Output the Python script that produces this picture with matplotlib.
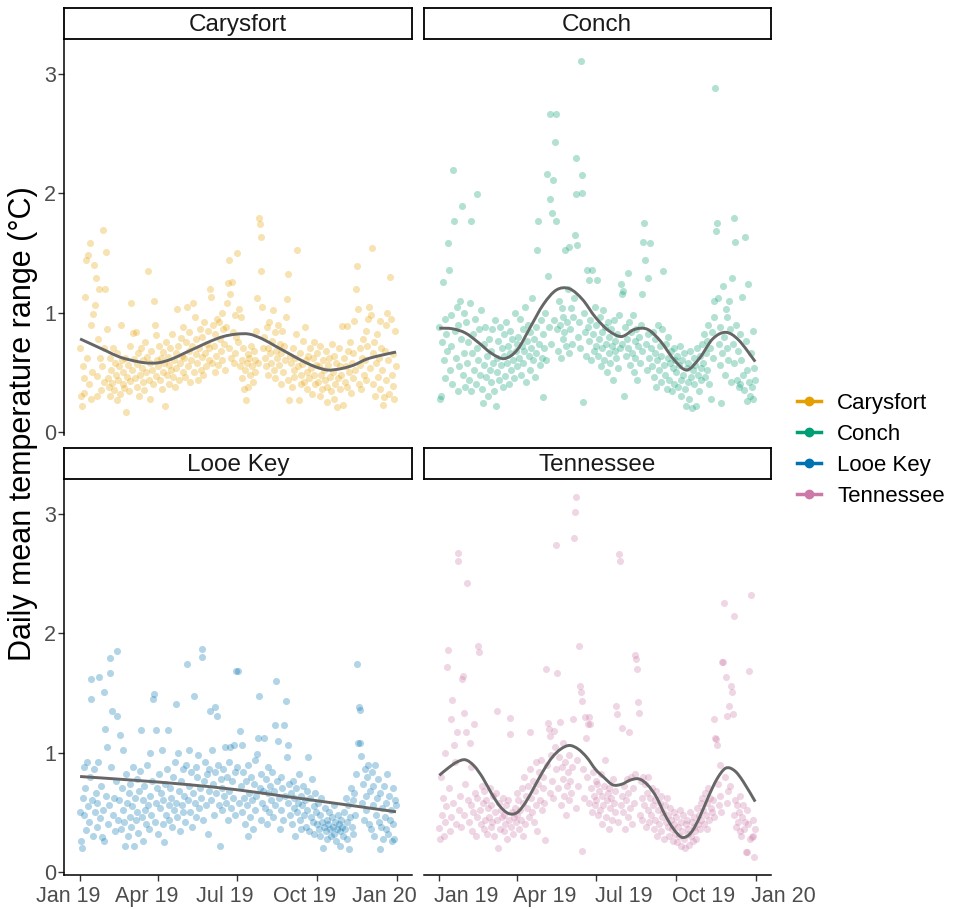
import numpy as np
import matplotlib
matplotlib.use("Agg")
import matplotlib.pyplot as plt
import matplotlib.dates as mdates
from matplotlib.path import Path
from matplotlib.patches import PathPatch
from matplotlib.lines import Line2D
from matplotlib.transforms import ScaledTranslation

plt.rcParams['font.family'] = ['Liberation Sans', 'DejaVu Sans']

# daily mean temperature range per site, one row per month (Jan..Dec 2019)
carysfort = [
    0.70, 0.30, 0.22, 0.55, 0.45, 0.33, 1.13, 1.44, 0.62, 1.48, 0.40, 1.58, 0.90, 0.28, 0.50, 0.99, 1.40, 1.06, 1.29, 0.47, 0.30, 0.78, 1.20, 0.62, 0.35, 0.55, 1.69, 0.42, 0.70, 1.20, 1.51,
    0.86, 0.45, 0.38, 0.62, 0.30, 0.52, 0.41, 0.70, 0.35, 0.58, 0.48, 0.27, 0.66, 0.44, 0.55, 0.32, 0.90, 0.60, 0.40, 0.50, 0.37, 0.62, 0.17, 0.46, 0.56, 0.34, 0.72, 0.43,
    1.08, 0.52, 0.83, 0.61, 0.45, 0.84, 0.38, 0.57, 0.66, 0.30, 0.48, 0.70, 0.54, 0.42, 0.60, 0.35, 0.75, 0.50, 0.63, 1.35, 0.44, 0.58, 0.28, 0.68, 0.52, 0.40, 1.10, 0.90, 0.81, 0.47, 0.60,
    0.55, 0.72, 0.44, 0.62, 0.36, 0.50, 0.67, 0.58, 0.22, 0.75, 0.48, 0.63, 0.40, 0.56, 0.70, 0.52, 0.82, 0.46, 0.60, 0.38, 0.66, 0.54, 1.03, 0.72, 0.44, 0.58, 0.79, 0.64, 0.50, 0.88,
    0.62, 0.46, 0.75, 1.05, 0.55, 0.68, 0.84, 0.42, 0.60, 0.72, 1.08, 0.50, 0.96, 0.65, 0.78, 0.58, 0.44, 0.70, 0.86, 0.52, 0.63, 0.80, 0.48, 0.92, 0.66, 0.55, 0.74, 0.85, 0.60, 0.70, 1.20,
    1.13, 0.58, 0.90, 0.72, 0.50, 0.82, 0.64, 0.95, 0.56, 0.92, 0.78, 0.68, 1.00, 0.60, 0.86, 0.74, 0.52, 0.88, 1.08, 1.25, 0.70, 1.44, 1.16, 0.62, 1.26, 0.84, 0.58, 0.98, 0.66, 0.80,
    1.50, 0.75, 1.03, 0.55, 0.96, 0.60, 0.45, 0.70, 0.36, 0.52, 0.27, 0.58, 0.65, 0.38, 0.62, 0.48, 0.72, 0.55, 0.42, 0.68, 0.60, 0.50, 0.85, 1.12, 0.58, 1.79, 1.74, 1.63, 1.35, 1.05, 0.70,
    0.80, 0.62, 0.55, 0.88, 0.70, 0.48, 0.92, 0.66, 0.58, 0.76, 1.02, 0.52, 0.84, 0.45, 0.68, 0.62, 0.90, 0.56, 0.74, 0.40, 0.66, 0.85, 0.50, 0.72, 0.60, 0.96, 1.11, 1.32, 0.44, 0.27, 0.64,
    0.58, 0.38, 0.70, 0.52, 0.46, 0.62, 0.82, 1.52, 0.55, 0.27, 0.66, 0.48, 0.40, 0.57, 0.76, 0.42, 0.88, 0.60, 0.36, 0.50, 0.64, 0.45, 0.70, 0.54, 0.32, 0.62, 0.48, 0.75, 0.40, 0.56,
    0.66, 0.42, 0.55, 0.30, 0.72, 0.48, 0.36, 0.60, 0.52, 0.44, 0.68, 0.38, 0.25, 0.56, 0.62, 0.46, 0.34, 0.74, 0.50, 0.28, 0.64, 0.40, 0.58, 0.21, 0.45, 0.70, 0.36, 0.55, 0.48, 0.89, 0.23,
    0.62, 0.42, 0.55, 0.89, 0.38, 0.68, 0.50, 0.75, 0.33, 0.58, 0.45, 0.66, 0.93, 0.52, 1.20, 1.39, 1.03, 0.40, 0.70, 0.56, 0.36, 0.62, 0.78, 0.48, 0.60, 0.85, 0.44, 0.72, 0.95, 1.05,
    0.54, 0.98, 1.54, 0.66, 0.40, 0.75, 0.30, 0.58, 0.82, 0.46, 0.62, 0.93, 0.36, 0.70, 0.52, 0.23, 0.29, 0.68, 0.44, 0.90, 1.00, 0.60, 0.32, 1.30, 0.95, 0.48, 0.39, 0.65, 0.28, 0.85, 0.55,
]
conch = [
    0.88, 0.28, 0.30, 0.75, 1.26, 0.60, 0.95, 0.45, 0.82, 0.68, 1.58, 1.36, 0.52, 0.98, 0.72, 0.40, 2.19, 1.77, 0.85, 0.62, 1.05, 0.34, 0.90, 0.55, 1.10, 0.78, 1.89, 0.48, 0.66, 1.00, 0.38,
    0.92, 0.58, 0.75, 0.44, 1.08, 0.34, 1.77, 0.66, 0.82, 0.52, 0.95, 0.40, 0.70, 1.99, 0.60, 0.86, 0.48, 1.02, 0.36, 0.24, 0.74, 0.56, 0.88, 0.46, 0.64, 0.30, 0.78, 0.52,
    0.68, 0.42, 0.86, 0.58, 0.34, 0.94, 0.22, 0.62, 0.50, 0.76, 0.44, 0.88, 0.56, 0.70, 0.38, 0.82, 0.64, 0.47, 0.92, 0.58, 0.72, 0.40, 0.66, 0.85, 0.52, 0.78, 0.60, 0.45, 1.00, 0.68, 0.74,
    0.55, 0.80, 0.62, 0.95, 0.48, 0.72, 0.86, 0.58, 0.68, 1.05, 0.42, 0.76, 0.90, 0.64, 0.52, 0.84, 0.70, 1.12, 0.60, 0.78, 0.46, 0.88, 0.66, 1.52, 1.77, 0.74, 0.56, 0.94, 0.62, 0.29,
    0.82, 0.70, 1.00, 0.60, 2.16, 1.31, 0.88, 1.95, 2.66, 0.74, 1.83, 2.11, 0.94, 2.43, 2.66, 1.77, 0.86, 0.68, 1.10, 0.90, 0.62, 1.04, 0.78, 0.96, 0.84, 1.52, 0.72, 0.92, 1.20, 0.66, 1.55,
    0.86, 1.04, 0.74, 0.96, 1.12, 1.65, 2.29, 1.99, 1.57, 0.80, 0.92, 0.70, 3.11, 2.15, 2.00, 0.25, 1.00, 0.84, 0.64, 1.36, 0.88, 1.27, 0.76, 0.94, 0.60, 1.36, 0.82, 0.68, 1.05, 0.72,
    0.90, 1.27, 0.64, 0.78, 0.96, 0.55, 0.84, 0.70, 1.02, 0.60, 0.88, 0.74, 0.50, 0.92, 0.66, 0.80, 0.58, 0.86, 0.72, 0.44, 0.94, 0.68, 0.76, 0.62, 0.82, 0.54, 0.98, 0.70, 1.24, 1.16, 0.74,
    1.18, 0.30, 0.88, 0.64, 0.78, 1.33, 0.70, 0.92, 0.56, 0.84, 0.66, 0.98, 0.50, 0.76, 0.62, 0.86, 0.44, 0.72, 0.80, 0.58, 0.90, 0.68, 1.16, 1.59, 1.75, 1.44, 0.74, 0.52, 0.82, 1.29, 0.62,
    1.58, 0.70, 0.55, 0.84, 0.46, 0.66, 0.78, 0.38, 0.60, 0.90, 0.52, 0.72, 0.42, 0.64, 0.86, 1.35, 0.56, 0.48, 0.74, 0.36, 0.62, 0.80, 0.44, 0.58, 0.68, 0.34, 0.54, 0.70, 0.40, 0.60,
    0.50, 0.64, 0.38, 0.56, 0.72, 0.44, 0.30, 0.60, 0.48, 0.66, 0.36, 0.22, 0.54, 0.42, 0.58, 0.28, 0.68, 0.46, 0.20, 0.52, 0.62, 0.40, 0.56, 0.22, 0.70, 0.48, 0.34, 0.64, 0.54, 0.44, 0.74,
    0.58, 0.82, 0.46, 0.66, 0.76, 0.52, 0.90, 0.40, 0.70, 0.28, 0.84, 0.62, 0.96, 1.10, 2.88, 1.68, 1.75, 1.12, 0.74, 0.56, 0.88, 0.24, 0.66, 1.22, 0.80, 0.48, 1.03, 0.70, 0.96, 0.60,
    1.10, 0.86, 0.42, 1.29, 0.74, 1.79, 0.58, 1.59, 0.90, 0.44, 0.68, 0.38, 0.82, 0.40, 0.60, 1.13, 0.48, 0.35, 1.63, 0.76, 0.26, 0.52, 1.24, 0.42, 0.30, 0.66, 0.38, 0.85, 0.28, 0.54, 0.44,
]
looe_key = [
    0.50, 0.26, 0.20, 0.62, 0.88, 0.48, 0.70, 0.35, 0.92, 0.55, 0.42, 0.80, 1.62, 1.45, 0.60, 0.30, 0.86, 0.50, 0.66, 0.38, 0.58, 0.92, 1.63, 0.45, 0.72, 0.29, 0.52, 1.51, 0.26, 1.20, 0.64,
    1.05, 0.40, 0.56, 1.67, 1.79, 0.88, 1.35, 0.48, 0.62, 0.34, 0.76, 1.31, 1.85, 0.44, 0.60, 1.15, 0.36, 0.70, 0.52, 1.02, 0.42, 0.22, 0.82, 0.58, 0.30, 0.66, 0.46, 0.74,
    0.38, 0.55, 0.88, 0.22, 0.62, 0.44, 0.78, 0.50, 0.33, 0.68, 0.85, 1.19, 0.46, 0.60, 0.26, 0.72, 0.52, 0.40, 0.90, 0.56, 0.36, 0.64, 1.00, 0.48, 0.76, 1.45, 1.49, 0.42, 1.19, 0.58, 0.70,
    0.32, 0.82, 0.54, 0.66, 1.02, 0.40, 0.60, 0.25, 0.74, 0.48, 0.86, 1.19, 0.56, 0.44, 0.70, 0.62, 0.38, 0.80, 0.52, 0.92, 1.41, 0.58, 0.46, 1.00, 0.68, 0.34, 0.76, 0.56, 0.86, 0.50,
    0.64, 0.42, 0.90, 1.74, 0.60, 1.02, 0.72, 0.50, 0.84, 0.38, 0.66, 1.47, 0.58, 0.88, 0.46, 0.80, 0.98, 0.54, 0.70, 0.62, 1.87, 1.80, 0.44, 0.76, 0.92, 0.56, 0.82, 0.32, 0.68, 0.86, 1.35,
    0.60, 1.02, 0.74, 0.48, 1.38, 0.84, 0.66, 1.31, 0.90, 0.56, 0.22, 0.78, 0.70, 0.52, 0.86, 0.64, 1.05, 0.58, 0.80, 0.44, 0.92, 0.68, 1.05, 0.54, 0.76, 0.62, 1.06, 0.48, 0.84, 1.68,
    0.88, 1.68, 0.58, 1.18, 0.72, 1.06, 0.50, 0.84, 0.62, 0.40, 0.76, 0.56, 0.30, 0.90, 0.66, 0.46, 0.80, 0.60, 0.36, 0.74, 0.52, 0.94, 0.64, 0.99, 1.12, 1.47, 0.70, 0.44, 0.82, 0.58, 0.68,
    1.12, 0.54, 0.78, 0.40, 0.66, 0.88, 0.50, 0.72, 0.60, 0.84, 0.46, 0.68, 1.23, 0.56, 1.60, 0.76, 1.10, 0.62, 0.36, 0.80, 0.52, 0.70, 0.44, 1.23, 0.64, 1.43, 0.96, 1.06, 0.58, 0.74, 0.48,
    0.66, 0.40, 0.76, 0.54, 0.62, 0.30, 0.70, 0.50, 0.58, 0.82, 0.44, 0.64, 0.36, 0.56, 0.72, 0.48, 0.60, 0.38, 0.68, 0.52, 0.96, 0.34, 0.62, 0.46, 0.78, 0.42, 0.55, 0.32, 0.66, 0.50,
    0.40, 0.58, 0.36, 0.48, 0.30, 0.62, 0.42, 0.20, 0.38, 0.54, 0.34, 0.44, 0.28, 0.40, 0.50, 0.36, 0.30, 0.46, 0.38, 0.56, 0.32, 0.42, 0.26, 0.36, 0.48, 0.40, 0.22, 0.34, 0.44, 0.38, 0.30,
    0.50, 0.36, 0.62, 0.42, 0.28, 0.56, 0.19, 0.46, 0.70, 0.38, 0.60, 0.32, 0.66, 0.48, 0.82, 1.74, 1.08, 1.38, 1.36, 1.08, 0.97, 0.58, 0.74, 0.44, 0.86, 0.52, 0.64, 0.80, 0.90, 0.40,
    0.68, 0.36, 0.84, 0.56, 0.72, 0.30, 0.90, 0.48, 0.62, 0.78, 0.42, 0.19, 0.66, 0.38, 0.54, 0.28, 0.72, 0.46, 0.36, 0.58, 0.82, 0.32, 0.64, 0.44, 0.52, 0.26, 0.70, 0.40, 0.28, 0.60, 0.56,
]
tennessee = [
    0.37, 0.28, 0.80, 0.48, 0.62, 0.30, 1.00, 0.42, 0.55, 1.72, 1.86, 0.70, 0.34, 1.28, 0.46, 1.44, 0.58, 1.06, 0.92, 0.40, 1.17, 2.67, 2.60, 0.52, 0.64, 0.38, 1.62, 1.64, 0.48, 1.33, 0.74,
    1.17, 2.42, 0.60, 0.42, 1.08, 0.56, 0.88, 0.34, 0.50, 1.24, 0.66, 0.30, 0.46, 0.62, 1.89, 1.84, 0.52, 0.40, 0.72, 0.58, 0.36, 0.68, 0.44, 0.60, 0.32, 0.54, 0.46, 0.70,
    0.38, 0.56, 0.42, 0.64, 0.30, 0.50, 0.66, 1.35, 0.44, 0.20, 0.58, 0.36, 0.52, 0.46, 0.62, 0.34, 0.48, 0.40, 0.56, 0.28, 0.60, 0.44, 1.29, 1.16, 0.38, 0.50, 0.32, 0.46, 0.54, 0.42, 0.66,
    0.48, 0.60, 0.36, 0.52, 0.44, 0.70, 0.30, 0.58, 0.80, 0.40, 0.64, 0.54, 0.72, 0.46, 0.86, 1.17, 0.62, 0.50, 0.76, 0.42, 0.68, 0.92, 0.56, 0.34, 0.74, 0.84, 0.60, 0.94, 0.52, 0.70,
    0.80, 0.58, 0.27, 1.70, 0.90, 1.25, 1.20, 0.66, 1.14, 0.98, 0.76, 0.62, 1.18, 1.05, 2.74, 0.86, 1.67, 0.70, 0.96, 1.26, 0.56, 0.88, 0.78, 1.08, 0.64, 0.92, 0.48, 0.72, 0.84, 0.60, 0.98,
    0.76, 0.66, 0.88, 1.28, 2.80, 3.01, 3.14, 0.54, 0.94, 0.72, 1.89, 1.56, 1.51, 1.43, 0.18, 0.86, 0.62, 1.30, 1.12, 0.80, 1.24, 0.58, 1.30, 1.24, 0.70, 0.50, 0.84, 0.64, 0.56, 0.76,
    0.60, 0.74, 0.48, 0.68, 0.52, 0.82, 0.40, 0.64, 0.56, 0.72, 0.94, 0.46, 0.60, 0.66, 0.36, 0.70, 0.54, 0.62, 0.44, 0.78, 0.58, 0.50, 0.68, 1.39, 1.32, 0.42, 2.66, 2.60, 0.56, 1.21, 0.64,
    0.50, 0.72, 0.36, 0.60, 0.78, 0.46, 0.66, 1.17, 0.54, 0.80, 0.40, 0.70, 0.58, 0.82, 1.82, 1.78, 1.70, 1.42, 1.33, 0.48, 0.76, 0.62, 0.44, 0.80, 0.56, 0.74, 0.38, 0.66, 0.52, 0.80, 0.42,
    0.62, 0.48, 0.70, 0.56, 0.36, 0.60, 0.44, 0.68, 0.30, 0.52, 0.40, 0.58, 0.34, 0.64, 0.46, 0.50, 0.28, 0.56, 0.42, 0.62, 0.38, 0.48, 0.30, 0.54, 0.44, 0.36, 0.26, 0.50, 0.40, 0.32,
    0.46, 0.25, 0.38, 0.30, 0.52, 0.22, 0.42, 0.34, 0.48, 0.28, 0.20, 0.40, 0.44, 0.32, 0.36, 0.23, 0.50, 0.30, 0.42, 0.26, 0.38, 0.46, 0.34, 0.28, 0.54, 0.40, 0.48, 0.36, 0.58, 0.44, 0.62,
    0.52, 0.40, 0.66, 0.48, 0.58, 0.36, 0.70, 0.44, 0.62, 0.54, 0.50, 0.60, 0.46, 1.28, 1.12, 1.11, 1.06, 0.74, 0.56, 0.90, 0.64, 0.50, 1.76, 1.76, 2.25, 0.80, 1.63, 0.58, 1.31, 0.68,
    1.39, 0.72, 1.56, 1.51, 1.32, 2.14, 0.48, 0.60, 0.38, 0.56, 0.42, 0.50, 0.34, 0.64, 0.30, 0.46, 0.56, 0.36, 0.42, 0.17, 0.52, 0.17, 0.40, 1.68, 0.28, 2.32, 0.29, 0.44, 0.30, 0.13, 0.36,
]

# smoothed trend per site (day of year, value)
carysfort_smooth_days = [0, 15, 30, 45, 60, 75, 90, 105, 120, 135, 150, 165, 180, 195, 210, 225, 240, 255, 270, 285, 300, 315, 330, 345, 364]
carysfort_smooth = [0.78, 0.73, 0.68, 0.63, 0.60, 0.58, 0.58, 0.61, 0.66, 0.71, 0.76, 0.80, 0.82, 0.82, 0.78, 0.72, 0.66, 0.60, 0.55, 0.52, 0.53, 0.56, 0.61, 0.64, 0.67]
conch_smooth_days = [0, 15, 30, 45, 60, 75, 90, 105, 120, 135, 150, 165, 180, 195, 210, 225, 240, 255, 270, 285, 300, 315, 330, 345, 364]
conch_smooth = [0.87, 0.865, 0.83, 0.75, 0.66, 0.615, 0.69, 0.88, 1.07, 1.19, 1.20, 1.11, 0.96, 0.85, 0.80, 0.86, 0.86, 0.76, 0.61, 0.52, 0.62, 0.78, 0.835, 0.77, 0.59]
looe_key_smooth_days = [0, 60, 120, 180, 240, 300, 364]
looe_key_smooth = [0.80, 0.77, 0.735, 0.69, 0.63, 0.57, 0.505]
tennessee_smooth_days = [0, 10, 20, 30, 40, 50, 60, 70, 80, 90, 100, 110, 120, 130, 140, 150, 160, 170, 180,
                         190, 200, 210, 220, 230, 240, 250, 260, 270, 280, 290, 300, 310, 320, 330, 340, 350, 364]
tennessee_smooth = [0.81, 0.87, 0.92, 0.94, 0.89, 0.79, 0.66, 0.55, 0.49, 0.50, 0.59, 0.72, 0.85, 0.96, 1.03, 1.06, 1.03, 0.96, 0.86,
                    0.79, 0.73, 0.735, 0.77, 0.78, 0.73, 0.63, 0.48, 0.36, 0.29, 0.33, 0.46, 0.63, 0.78, 0.87, 0.85, 0.76, 0.59]

sites = ['Carysfort', 'Conch', 'Looe Key', 'Tennessee']
colors = ['#E69F00', '#009E73', '#0072B2', '#CC79A7']
values = [carysfort, conch, looe_key, tennessee]
smooth_days = [carysfort_smooth_days, conch_smooth_days, looe_key_smooth_days, tennessee_smooth_days]
smooth_vals = [carysfort_smooth, conch_smooth, looe_key_smooth, tennessee_smooth]

start = np.datetime64('2019-01-01')
t0 = mdates.date2num(start)


def smooth_path(xs, ys):
    # Catmull-Rom curve through the knots, drawn as cubic Bezier segments
    xs = np.asarray(xs, float)
    ys = np.asarray(ys, float)
    pts = np.column_stack([xs, ys])
    ext = np.vstack([pts[0], pts, pts[-1]])
    verts = [pts[0]]
    codes = [Path.MOVETO]
    for i in range(len(pts) - 1):
        p0, p1, p2, p3 = ext[i], ext[i + 1], ext[i + 2], ext[i + 3]
        verts += [p1 + (p2 - p0) / 6, p2 - (p3 - p1) / 6, p2]
        codes += [Path.CURVE4] * 3
    return Path(verts, codes)


W, H = 955, 909
fig = plt.figure(figsize=(W / 100, H / 100), dpi=100)

col_x = [64.3, 423.5]
panel_w = 347.5
row_top = [39.0, 479.0]
panel_h = 395.5
strip_h = 30.5
# horizontal shift of the date labels in each column (pixels)
label_shift = [-12, 27]

xlim = (t0 - 18.2, t0 + 364 + 18.2)
ylim = (-0.02, 3.29)
ticks = [np.datetime64(d) for d in ['2019-01-01', '2019-04-01', '2019-07-01', '2019-10-01', '2020-01-01']]

for k, (site, col, vals, sd, sv) in enumerate(zip(sites, colors, values, smooth_days, smooth_vals)):
    r, c = divmod(k, 2)
    left = col_x[c] / W
    bottom = 1 - (row_top[r] + panel_h) / H
    ax = fig.add_axes([left, bottom, panel_w / W, panel_h / H])
    dates = start + np.arange(len(vals))
    ax.scatter(dates, vals, s=26, color=col, alpha=0.3, linewidths=0, zorder=2)
    ax.add_patch(PathPatch(smooth_path(t0 + np.array(sd), sv), fill=False,
                           edgecolor='#666666', lw=2.1, capstyle='butt', zorder=3))
    ax.set_xlim(xlim)
    ax.set_ylim(ylim)
    ax.set_xticks(ticks)
    ax.xaxis.set_major_formatter(mdates.DateFormatter('%b %y'))
    ax.set_yticks([0, 1, 2, 3])
    ax.tick_params(length=4, width=1, color='#333333', labelcolor='#4D4D4D',
                   labelsize=15.5, pad=2)
    ax.tick_params(axis='x', pad=4)
    for s in ['top', 'right']:
        ax.spines[s].set_visible(False)
    ax.spines['left'].set_linewidth(1.1)
    ax.spines['bottom'].set_linewidth(1.1)
    if c == 1:
        ax.spines['left'].set_visible(False)
        ax.tick_params(axis='y', left=False, labelleft=False)
    if r == 0:
        ax.spines['bottom'].set_visible(False)
        ax.tick_params(axis='x', bottom=False, labelbottom=False)
    else:
        shift = ScaledTranslation(label_shift[c] / 100, 0, fig.dpi_scale_trans)
        for lbl in ax.xaxis.get_majorticklabels():
            lbl.set_transform(lbl.get_transform() + shift)

    # facet strip
    sax = fig.add_axes([left, 1 - row_top[r] / H, panel_w / W, strip_h / H])
    sax.set_xticks([])
    sax.set_yticks([])
    for s in sax.spines.values():
        s.set_linewidth(1.3)
        s.set_color('black')
    sax.text(0.5, 0.45, site, ha='center', va='center', fontsize=17.5, color='#1A1A1A',
             transform=sax.transAxes)

fig.text(23 / W, 1 - 424 / H, 'Daily mean temperature range (°C)', rotation=90,
         ha='center', va='center', fontsize=22, color='black')

handles = [Line2D([0], [0], color=cl, lw=2.5, marker='o', markersize=6) for cl in colors]
fig.legend(handles, sites, loc='center left', bbox_to_anchor=(797 / W, 1 - 450 / H),
           frameon=False, fontsize=16, handlelength=1.1, handletextpad=0.7,
           labelspacing=0.45, borderaxespad=0, borderpad=0)

fig.savefig('out.png', dpi=100)
